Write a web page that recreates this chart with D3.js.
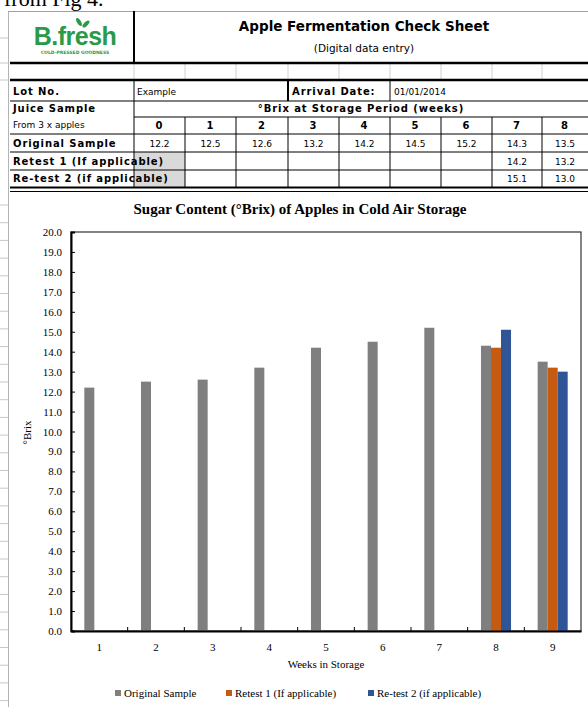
<!DOCTYPE html>
<html>
<head>
<meta charset="utf-8">
<script src="https://cdn.jsdelivr.net/npm/d3@7"></script>
<style>
  body { margin: 0; background: #fff; }
  svg text { fill: #000; }
  .tbl-bold { font-family: "DejaVu Sans", sans-serif; font-weight: bold; font-size: 10px; letter-spacing: 0.9px; }
  .tbl-reg  { font-family: "DejaVu Sans", sans-serif; font-size: 9px; }
  .chart-txt { font-family: "Liberation Serif", "DejaVu Serif", serif; }
</style>
</head>
<body>
<svg id="sheet" width="588" height="707"></svg>
<script>

/*** DATA ***/

var table_weeks   = [0, 1, 2, 3, 4, 5, 6, 7, 8];
var original_vals = [12.2, 12.5, 12.6, 13.2, 14.2, 14.5, 15.2, 14.3, 13.5];
var retest1_vals  = [null, null, null, null, null, null, null, 14.2, 13.2];
var retest2_vals  = [null, null, null, null, null, null, null, 15.1, 13.0];

var chart_weeks   = [1, 2, 3, 4, 5, 6, 7, 8, 9];
var series_names  = ["Original Sample", "Retest 1 (If applicable)", "Re-test 2 (if applicable)"];
var series_colors = ["#7f7f7f", "#c55a11", "#2f5597"];
var y_ticks       = d3.range(0, 20.5, 1);

var svg = d3.select('#sheet');

/*** SPREADSHEET FRAME ***/

// the caption text cut off at the very top
svg.append('text')
    .attr('x', 4).attr('y', 6)
    .style('font-family', '"Liberation Serif", serif')
    .style('font-size', '22px')
    .text('from Fig 4.');

// row header marks on the left margin
var row_marks = [38, 63, 80].concat(d3.range(205, 707, 17.7));
svg.selectAll('.row-mark')
    .data(row_marks)
    .enter().append('line')
    .attr('x1', 0).attr('x2', 8)
    .attr('y1', function(d) { return d; }).attr('y2', function(d) { return d; })
    .attr('stroke', '#c8c8c8').attr('stroke-width', 1);

svg.append('line')
    .attr('x1', 8.5).attr('x2', 8.5).attr('y1', 11).attr('y2', 707)
    .attr('stroke', '#b4b4b4');
svg.append('line')
    .attr('x1', 8).attr('x2', 588).attr('y1', 11.5).attr('y2', 11.5)
    .attr('stroke', '#a0a0a0');

/*** HEADER ***/

var col_x = [10, 134, 185, 236, 288, 339, 390, 441, 492, 542, 588];
var row_y = [80, 101, 117, 134, 152, 170, 187];

// logo
var logo = svg.append('g');
logo.append('text')
    .attr('x', 75).attr('y', 45)
    .attr('text-anchor', 'middle')
    .style('font-family', '"Liberation Sans", sans-serif')
    .style('font-weight', 'bold')
    .style('font-size', '25px')
    .style('letter-spacing', '-0.5px')
    .style('fill', '#2a9a48')
    .text('B.fresh');
logo.append('text')
    .attr('x', 75).attr('y', 54)
    .attr('text-anchor', 'middle')
    .style('font-family', '"DejaVu Sans", sans-serif')
    .style('font-weight', 'bold')
    .style('font-size', '4.5px')
    .style('fill', '#2a9a48')
    .text('COLD-PRESSED GOODNESS');
logo.append('ellipse')
    .attr('cx', 79).attr('cy', 22).attr('rx', 2).attr('ry', 4.5)
    .attr('transform', 'rotate(-30,79,22)')
    .attr('fill', '#2a9a48');
logo.append('ellipse')
    .attr('cx', 86).attr('cy', 24).attr('rx', 2).attr('ry', 4.5)
    .attr('transform', 'rotate(45,86,24)')
    .attr('fill', '#2a9a48');

svg.append('text')
    .attr('x', 364).attr('y', 31)
    .attr('text-anchor', 'middle')
    .style('font-family', '"DejaVu Sans", sans-serif')
    .style('font-weight', 'bold')
    .style('font-size', '13.5px')
    .text('Apple Fermentation Check Sheet');
svg.append('text')
    .attr('x', 364).attr('y', 52)
    .attr('text-anchor', 'middle')
    .style('font-family', '"DejaVu Sans", sans-serif')
    .style('font-size', '10.5px')
    .text('(Digital data entry)');

// logo cell border
svg.append('line').attr('x1', 134).attr('x2', 134).attr('y1', 11).attr('y2', 63)
    .attr('stroke', '#000').attr('stroke-width', 2);

// empty row grid lines
col_x.slice(1, -1).forEach(function(x) {
    svg.append('line').attr('x1', x).attr('x2', x).attr('y1', 63).attr('y2', 80)
        .attr('stroke', '#d0d0d0');
});

/*** TABLE ***/

// gray filled cells next to the retest labels
svg.append('rect')
    .attr('x', 134).attr('y', 152).attr('width', 51).attr('height', 35)
    .attr('fill', '#d9d9d9');

function hline(y, x1, x2, w) {
    svg.append('line').attr('x1', x1).attr('x2', x2).attr('y1', y).attr('y2', y)
        .attr('stroke', '#000').attr('stroke-width', w);
}
function vline(x, y1, y2, w) {
    svg.append('line').attr('x1', x).attr('x2', x).attr('y1', y1).attr('y2', y2)
        .attr('stroke', '#000').attr('stroke-width', w);
}

hline(63, 10, 588, 2.5);
hline(80, 10, 588, 2.5);
hline(101, 10, 588, 1);
hline(117, 134, 588, 1);
hline(134, 10, 588, 1);
hline(152, 10, 588, 1);
hline(170, 10, 588, 1);
hline(187.5, 10, 588, 2);
hline(191.5, 10, 588, 1);

vline(134, 80, 187, 1);
vline(288, 80, 101, 2);
vline(390, 80, 101, 1);
col_x.slice(2, -1).forEach(function(x) { vline(x, 117, 187, 1); });

// labels
function cell_text(x, y, txt, cls, anchor) {
    svg.append('text')
        .attr('class', cls)
        .attr('x', x).attr('y', y)
        .attr('text-anchor', anchor || 'start')
        .text(txt);
}
cell_text(13, 95, 'Lot No.', 'tbl-bold');
cell_text(137, 95, 'Example', 'tbl-reg');
cell_text(292, 95, 'Arrival Date:', 'tbl-bold');
cell_text(394, 95, '01/01/2014', 'tbl-reg');
cell_text(13, 112, 'Juice Sample', 'tbl-bold');
cell_text(13, 128, 'From 3 x apples', 'tbl-reg');
cell_text(361, 112, '°Brix at Storage Period (weeks)', 'tbl-bold', 'middle');
cell_text(13, 147, 'Original Sample', 'tbl-bold');
cell_text(13, 165, 'Retest 1 (If applicable)', 'tbl-bold');
cell_text(13, 182, 'Re-test 2 (if applicable)', 'tbl-bold');

var table_rows = [original_vals, retest1_vals, retest2_vals];
table_weeks.forEach(function(w, i) {
    var cx = (col_x[i + 1] + col_x[i + 2]) / 2;
    cell_text(cx, 129, w, 'tbl-bold', 'middle');
    table_rows.forEach(function(vals, r) {
        if (vals[i] !== null) {
            cell_text(cx, row_y[4 + r] - 5, vals[i].toFixed(1), 'tbl-reg', 'middle');
        }
    });
});

/*** CHART ***/

var plot = {left: 71, right: 581, top: 232, bottom: 631};

var x = d3.scaleBand()
    .domain(chart_weeks)
    .range([plot.left, plot.right]);

var x_series = d3.scaleBand()
    .domain(series_names)
    .range([0, x.bandwidth()])
    .paddingOuter(1.33);

var y = d3.scaleLinear()
    .domain([0, 20])
    .range([plot.bottom, plot.top]);

svg.append('text')
    .attr('class', 'chart-txt')
    .attr('x', 300).attr('y', 214)
    .attr('text-anchor', 'middle')
    .style('font-weight', 'bold')
    .style('font-size', '15px')
    .text('Sugar Content (°Brix) of Apples in Cold Air Storage');

// plot frame
svg.append('rect')
    .attr('x', plot.left).attr('y', plot.top)
    .attr('width', plot.right - plot.left).attr('height', plot.bottom - plot.top)
    .attr('fill', 'none').attr('stroke', '#333').attr('stroke-width', 1.2);

// bars
var all_series = [original_vals, retest1_vals, retest2_vals];
all_series.forEach(function(vals, s) {
    svg.append('g')
        .selectAll('rect')
        .data(vals.map(function(v, i) { return {week: chart_weeks[i], value: v}; })
                  .filter(function(d) { return d.value !== null; }))
        .enter().append('rect')
        .attr('x', function(d) { return x(d.week) + x_series(series_names[s]); })
        .attr('y', function(d) { return y(d.value); })
        .attr('width', x_series.bandwidth())
        .attr('height', function(d) { return y(0) - y(d.value); })
        .attr('fill', series_colors[s]);
});

// y axis
var y_axis = svg.append('g')
    .attr('transform', 'translate(' + plot.left + ',0)')
    .call(d3.axisLeft(y).tickValues(y_ticks).tickFormat(d3.format('.1f')).tickSize(-4).tickPadding(9));
y_axis.select('.domain').attr('stroke', '#000').attr('stroke-width', 2);
y_axis.selectAll('.tick line').attr('stroke', '#000');
y_axis.selectAll('text')
    .attr('class', 'chart-txt')
    .style('font-size', '11px');

// x axis
var x_axis = svg.append('g')
    .attr('transform', 'translate(0,' + plot.bottom + ')')
    .call(d3.axisBottom(x).tickSize(0).tickPadding(12));
x_axis.select('.domain').attr('stroke', '#000').attr('stroke-width', 2);
x_axis.selectAll('text')
    .attr('class', 'chart-txt')
    .style('font-size', '11px');

// category separator ticks pointing up
svg.append('g')
    .selectAll('line')
    .data(chart_weeks.slice(1))
    .enter().append('line')
    .attr('x1', function(d) { return x(d); }).attr('x2', function(d) { return x(d); })
    .attr('y1', plot.bottom - 4).attr('y2', plot.bottom)
    .attr('stroke', '#000');

svg.append('text')
    .attr('class', 'chart-txt')
    .attr('transform', 'translate(31,' + ((plot.top + plot.bottom) / 2 + 1) + ') rotate(-90)')
    .attr('text-anchor', 'middle')
    .style('font-size', '11px')
    .text('°Brix');

svg.append('text')
    .attr('class', 'chart-txt')
    .attr('x', (plot.left + plot.right) / 2).attr('y', 668)
    .attr('text-anchor', 'middle')
    .style('font-size', '11px')
    .text('Weeks in Storage');

// legend
var legend_x = [115, 226, 368];
series_names.forEach(function(name, s) {
    svg.append('rect')
        .attr('x', legend_x[s]).attr('y', 690)
        .attr('width', 6).attr('height', 6)
        .attr('fill', series_colors[s]);
    svg.append('text')
        .attr('class', 'chart-txt')
        .attr('x', legend_x[s] + 9).attr('y', 697)
        .style('font-size', '11px')
        .text(name);
});

</script>
</body>
</html>
